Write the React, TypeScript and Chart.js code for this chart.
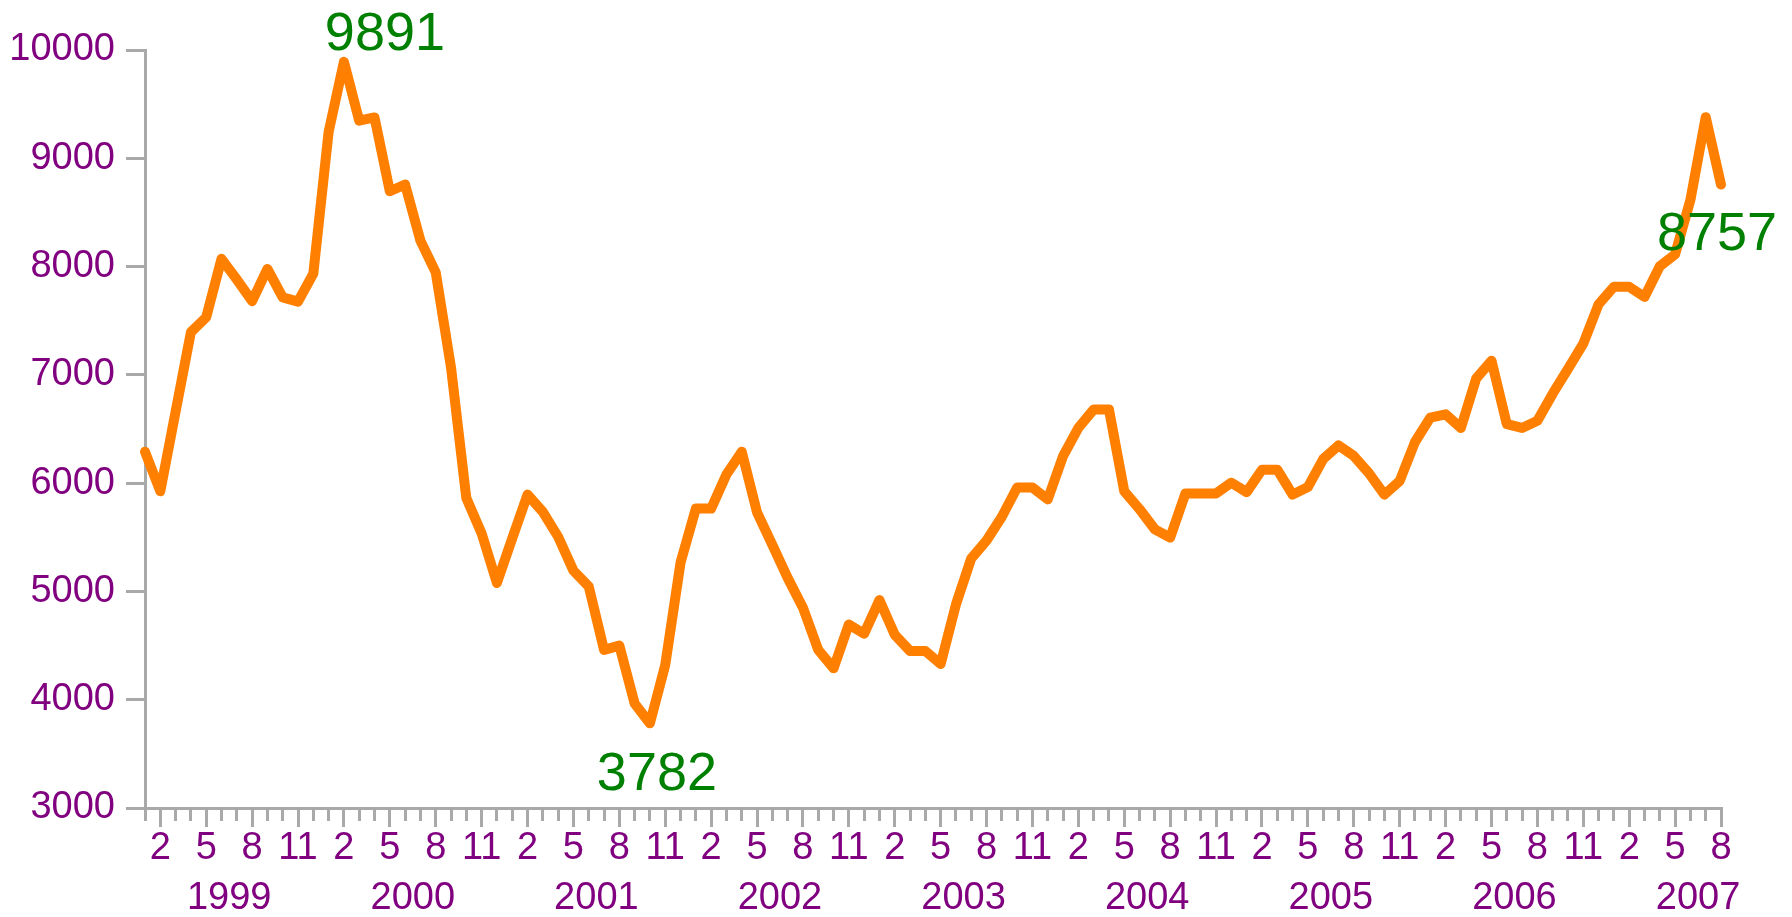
import React, { useEffect, useRef } from 'react';
import { Chart, registerables } from 'chart.js';

Chart.register(...registerables);

// ---- Data ----
const years: number[] = [1999, 2000, 2001, 2002, 2003, 2004, 2005, 2006, 2007];
const lastYearMonths = 8;

const categories: string[] = [];
years.forEach((yr) => {
  const count = yr === 2007 ? lastYearMonths : 12;
  for (let m = 1; m <= count; m++) categories.push(`${yr}-${m}`);
});

const values: number[] = [
  6290, 5925, 6660, 7395, 7532, 8071, 7880, 7680, 7978, 7715, 7676, 7935,
  9243, 9891, 9347, 9377, 8696, 8758, 8240, 7946, 7068, 5862, 5536, 5078,
  5490, 5894, 5735, 5505, 5192, 5046, 4460, 4500, 3965, 3782, 4320, 5265,
  5765, 5765, 6080, 6290, 5730, 5430, 5125, 4850, 4460, 4290, 4695, 4610,
  4920, 4600, 4450, 4450, 4330, 4880, 5305, 5470, 5690, 5960, 5960, 5850,
  6250, 6510, 6680, 6680, 5925, 5760, 5573, 5497, 5905, 5905, 5905, 6004,
  5917, 6124, 6124, 5894, 5964, 6222, 6348, 6251, 6090, 5894, 6020, 6380,
  6605, 6636, 6510, 6967, 7131, 6545, 6510, 6576, 6826, 7056, 7288, 7652,
  7813, 7813, 7720, 8003, 8113, 8615, 9380, 8757,
];

const majorMonths: number[] = [2, 5, 8, 11];
const yearLabels: string[] = years.map((y) => String(y));
const yMin = 3000;
const yMax = 10000;
const yStep = 1000;

const annotations = [
  { index: 13, text: '9891', dx: 41, dy: -12 },
  { index: 33, text: '3782', dx: 7, dy: 67 },
  { index: 103, text: '8757', dx: -4, dy: 65 },
];

// ---- Styles ----
const FONT = '"Liberation Sans", Arial, Helvetica, sans-serif';
const AXIS = '#A9A9A9';
const PURPLE = '#800080';
const GREEN = '#008000';
const ORANGE = '#FF7F00';
const TICK_FONT_SIZE = 38;

const monthOf = (i: number) => Number(categories[i].split('-')[1]);
const isMajor = (i: number) => majorMonths.includes(monthOf(i));

const labelPlugin = {
  id: 'pointLabels',
  afterDatasetsDraw(chart: any) {
    const { ctx } = chart;
    const x = chart.scales.x;
    const y = chart.scales.y;
    ctx.save();
    ctx.font = `54px ${FONT}`;
    ctx.fillStyle = GREEN;
    ctx.textAlign = 'center';
    ctx.textBaseline = 'alphabetic';
    annotations.forEach((a) => {
      const px = x.getPixelForValue(a.index);
      const py = y.getPixelForValue(values[a.index]);
      ctx.fillText(a.text, px + a.dx, py + a.dy);
    });
    ctx.restore();
  },
};

export default function App() {
  const ref = useRef<HTMLCanvasElement>(null);

  useEffect(() => {
    document.body.style.margin = '0';
    const canvas = ref.current;
    if (!canvas) return;
    const chart = new Chart(canvas, {
      type: 'line',
      data: {
        labels: categories,
        datasets: [
          {
            data: values,
            borderColor: ORANGE,
            backgroundColor: ORANGE,
            borderWidth: 10,
            pointRadius: 0,
            tension: 0,
            borderJoinStyle: 'round',
            borderCapStyle: 'round',
            fill: false,
            clip: false as any,
          },
        ],
      },
      options: {
        animation: false,
        responsive: false,
        maintainAspectRatio: false,
        layout: { padding: { left: 0, top: 50, right: 71, bottom: 0 } },
        plugins: {
          legend: { display: false },
          tooltip: { enabled: false },
          title: { display: false },
        },
        scales: {
          x: {
            type: 'category',
            position: 'bottom',
            weight: 0,
            offset: false,
            grid: {
              display: true,
              drawOnChartArea: false,
              drawTicks: true,
              tickLength: 19,
              tickWidth: 3,
              lineWidth: 3,
              color: AXIS,
              tickColor: AXIS,
              tickBorderDash: (ctx: any) => (isMajor(ctx.index) ? [] : [11, 100]),
            } as any,
            border: { display: true, color: AXIS, width: 3 },
            ticks: {
              autoSkip: false,
              maxRotation: 0,
              minRotation: 0,
              padding: -1,
              color: PURPLE,
              font: { family: FONT, size: TICK_FONT_SIZE },
              callback: (_v: any, i: number) => (isMajor(i) ? String(monthOf(i)) : ''),
            },
            afterFit: (s: any) => {
              s.height = 60;
            },
          },
          xYear: {
            type: 'linear',
            position: 'bottom',
            weight: 1,
            min: 0,
            max: categories.length - 1,
            grid: { display: false, drawTicks: false, drawOnChartArea: false },
            border: { display: false },
            afterBuildTicks: (s: any) => {
              s.ticks = yearLabels.map((_, k) => ({ value: k * 12 + 5.5 }));
            },
            ticks: {
              autoSkip: false,
              maxRotation: 0,
              minRotation: 0,
              padding: 8,
              color: PURPLE,
              font: { family: FONT, size: TICK_FONT_SIZE },
              callback: (_v: any, i: number) => yearLabels[i],
            },
            afterFit: (s: any) => {
              s.height = 49;
            },
          },
          y: {
            type: 'linear',
            position: 'left',
            min: yMin,
            max: yMax,
            grid: {
              display: true,
              drawOnChartArea: false,
              drawTicks: true,
              tickLength: 19,
              tickWidth: 3,
              lineWidth: 3,
              color: AXIS,
              tickColor: AXIS,
            },
            border: { display: true, color: AXIS, width: 3 },
            ticks: {
              stepSize: yStep,
              padding: 11,
              color: PURPLE,
              font: { family: FONT, size: TICK_FONT_SIZE },
              callback: (v: any) => String(v),
            },
            afterFit: (s: any) => {
              s.width = 145;
            },
          },
        },
      } as any,
      plugins: [labelPlugin],
    });
    return () => chart.destroy();
  }, []);

  return (
    <div
      style={{
        position: 'fixed',
        left: 0,
        top: 0,
        width: 1792,
        height: 917,
        background: '#ffffff',
      }}
    >
      <canvas
        ref={ref}
        width={1792}
        height={917}
        style={{ width: 1792, height: 917, display: 'block' }}
      />
    </div>
  );
}
